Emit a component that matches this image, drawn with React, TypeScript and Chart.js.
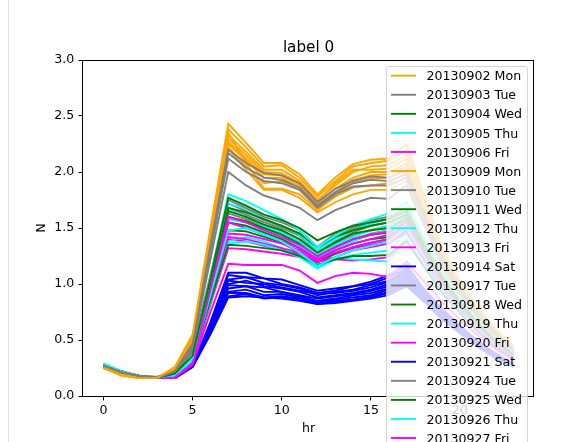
import { useEffect, useRef } from "react";
import { Chart, registerables } from "chart.js";

Chart.register(...registerables);

// ---------- data ----------
const hours = [0, 1, 2, 3, 4, 5, 6, 7, 8, 9, 10, 11, 12, 13, 14, 15, 16, 17, 18, 19, 20, 21, 22, 23];
const xTickValues = [0, 5, 10, 15, 20];
const yTickValues = [0, 0.5, 1, 1.5, 2, 2.5, 3];
const chartTitle = "label 0";
const xLabel = "hr";
const yLabel = "N";

const mondayDates = ["20130902", "20130909", "20130930", "20131007", "20131014", "20131021", "20131028", "20131104", "20131111"];
const mondayValues = [
  [0.25, 0.19, 0.16, 0.16, 0.26, 0.55, 1.50, 2.43, 2.26, 2.08, 2.08, 1.98, 1.80, 1.95, 2.07, 2.11, 2.12, 2.25, 1.78, 1.32, 1.02, 0.80, 0.60, 0.45],
  [0.26, 0.20, 0.17, 0.16, 0.24, 0.52, 1.45, 2.38, 2.22, 2.05, 2.06, 1.95, 1.78, 1.92, 2.05, 2.08, 2.10, 2.20, 1.75, 1.30, 1.00, 0.78, 0.58, 0.43],
  [0.25, 0.19, 0.16, 0.16, 0.25, 0.50, 1.40, 2.33, 2.18, 2.02, 2.02, 1.92, 1.75, 1.88, 2.00, 2.05, 2.06, 2.15, 1.70, 1.28, 0.98, 0.76, 0.57, 0.41],
  [0.26, 0.20, 0.17, 0.16, 0.23, 0.48, 1.38, 2.30, 2.15, 2.00, 1.99, 1.90, 1.74, 1.90, 2.02, 2.02, 2.03, 2.12, 1.68, 1.25, 0.96, 0.75, 0.55, 0.40],
  [0.25, 0.18, 0.16, 0.16, 0.24, 0.53, 1.42, 2.27, 2.12, 1.98, 1.97, 1.88, 1.72, 1.85, 1.95, 2.00, 2.00, 2.08, 1.65, 1.22, 0.95, 0.74, 0.55, 0.40],
  [0.26, 0.19, 0.17, 0.16, 0.25, 0.51, 1.40, 2.25, 2.10, 1.95, 1.95, 1.86, 1.70, 1.82, 1.93, 1.97, 1.98, 2.05, 1.62, 1.20, 0.93, 0.72, 0.54, 0.39],
  [0.25, 0.19, 0.16, 0.16, 0.22, 0.47, 1.35, 2.22, 2.05, 1.90, 1.92, 1.84, 1.68, 1.80, 1.90, 1.94, 1.95, 2.02, 1.60, 1.18, 0.92, 0.70, 0.52, 0.38],
  [0.26, 0.20, 0.17, 0.16, 0.24, 0.50, 1.38, 2.35, 2.08, 1.85, 1.85, 1.80, 1.66, 1.78, 1.86, 1.88, 1.90, 2.00, 1.58, 1.16, 0.90, 0.70, 0.52, 0.38],
  [0.25, 0.19, 0.16, 0.16, 0.23, 0.49, 1.36, 2.21, 2.02, 1.84, 1.84, 1.77, 1.64, 1.73, 1.80, 1.84, 1.84, 1.92, 1.55, 1.14, 0.88, 0.68, 0.50, 0.37],
];

const tuesdayDates = ["20130903", "20130910", "20130917", "20130924", "20131001", "20131008", "20131015", "20131022", "20131029"];
const tuesdayValues = [
  [0.27, 0.21, 0.18, 0.16, 0.22, 0.46, 1.35, 2.20, 2.08, 1.99, 1.97, 1.90, 1.73, 1.85, 1.92, 1.96, 1.95, 2.02, 1.62, 1.25, 0.97, 0.76, 0.57, 0.42],
  [0.27, 0.21, 0.18, 0.17, 0.21, 0.42, 1.08, 1.75, 1.68, 1.60, 1.55, 1.48, 1.33, 1.45, 1.52, 1.57, 1.60, 1.68, 1.36, 1.08, 0.86, 0.66, 0.50, 0.37],
  [0.26, 0.21, 0.18, 0.16, 0.21, 0.44, 1.22, 2.00, 1.88, 1.79, 1.74, 1.68, 1.57, 1.66, 1.72, 1.77, 1.76, 1.88, 1.52, 1.17, 0.92, 0.71, 0.54, 0.40],
  [0.27, 0.21, 0.18, 0.16, 0.21, 0.40, 1.05, 1.72, 1.65, 1.57, 1.52, 1.45, 1.30, 1.42, 1.50, 1.55, 1.58, 1.65, 1.34, 1.06, 0.84, 0.65, 0.49, 0.36],
  [0.27, 0.21, 0.18, 0.17, 0.23, 0.47, 1.33, 2.17, 2.04, 1.95, 1.93, 1.86, 1.70, 1.82, 1.90, 1.93, 1.92, 1.98, 1.60, 1.22, 0.95, 0.74, 0.56, 0.41],
  [0.26, 0.21, 0.18, 0.16, 0.20, 0.41, 1.03, 1.68, 1.62, 1.55, 1.50, 1.43, 1.28, 1.38, 1.46, 1.52, 1.55, 1.62, 1.32, 1.04, 0.82, 0.64, 0.48, 0.36],
  [0.27, 0.20, 0.18, 0.16, 0.22, 0.45, 1.28, 2.12, 2.00, 1.92, 1.90, 1.84, 1.68, 1.80, 1.87, 1.88, 1.88, 1.95, 1.58, 1.20, 0.94, 0.73, 0.55, 0.41],
  [0.27, 0.21, 0.18, 0.17, 0.21, 0.40, 1.00, 1.63, 1.58, 1.52, 1.47, 1.40, 1.26, 1.35, 1.43, 1.48, 1.52, 1.60, 1.30, 1.02, 0.80, 0.62, 0.47, 0.35],
  [0.27, 0.22, 0.18, 0.16, 0.21, 0.39, 0.98, 1.58, 1.55, 1.50, 1.45, 1.38, 1.24, 1.33, 1.40, 1.45, 1.48, 1.57, 1.28, 1.00, 0.79, 0.61, 0.46, 0.35],
];

const wednesdayDates = ["20130904", "20130911", "20130918", "20130925", "20131002", "20131009", "20131016"];
const wednesdayValues = [
  [0.27, 0.21, 0.18, 0.16, 0.20, 0.36, 1.05, 1.77, 1.70, 1.62, 1.57, 1.50, 1.39, 1.46, 1.52, 1.55, 1.58, 1.65, 1.34, 1.06, 0.84, 0.65, 0.49, 0.37],
  [0.27, 0.21, 0.18, 0.16, 0.20, 0.35, 1.00, 1.68, 1.64, 1.58, 1.52, 1.45, 1.33, 1.42, 1.48, 1.52, 1.55, 1.62, 1.32, 1.04, 0.83, 0.64, 0.48, 0.36],
  [0.27, 0.22, 0.18, 0.16, 0.19, 0.34, 0.98, 1.65, 1.60, 1.53, 1.48, 1.40, 1.28, 1.37, 1.45, 1.48, 1.50, 1.58, 1.29, 1.02, 0.81, 0.63, 0.47, 0.35],
  [0.27, 0.21, 0.18, 0.16, 0.20, 0.33, 0.85, 1.35, 1.34, 1.32, 1.30, 1.25, 1.17, 1.22, 1.25, 1.25, 1.26, 1.38, 1.15, 0.92, 0.74, 0.57, 0.44, 0.33],
  [0.26, 0.21, 0.18, 0.16, 0.20, 0.35, 0.96, 1.60, 1.56, 1.50, 1.44, 1.36, 1.25, 1.33, 1.40, 1.44, 1.46, 1.55, 1.26, 1.00, 0.79, 0.61, 0.46, 0.35],
  [0.27, 0.21, 0.18, 0.16, 0.19, 0.33, 0.93, 1.55, 1.52, 1.46, 1.40, 1.32, 1.22, 1.30, 1.36, 1.40, 1.42, 1.52, 1.24, 0.98, 0.78, 0.60, 0.45, 0.34],
  [0.27, 0.21, 0.18, 0.16, 0.19, 0.34, 0.90, 1.48, 1.47, 1.42, 1.37, 1.28, 1.19, 1.27, 1.33, 1.37, 1.40, 1.48, 1.22, 0.96, 0.76, 0.59, 0.45, 0.34],
];

const thursdayDates = ["20130905", "20130912", "20130919", "20130926", "20131003", "20131010", "20131017"];
const thursdayValues = [
  [0.29, 0.22, 0.18, 0.16, 0.19, 0.34, 1.06, 1.80, 1.74, 1.66, 1.58, 1.48, 1.33, 1.43, 1.52, 1.58, 1.63, 1.73, 1.40, 1.10, 0.87, 0.67, 0.50, 0.38],
  [0.28, 0.22, 0.18, 0.16, 0.19, 0.33, 1.02, 1.72, 1.67, 1.58, 1.52, 1.44, 1.30, 1.40, 1.48, 1.54, 1.58, 1.68, 1.36, 1.07, 0.85, 0.66, 0.49, 0.37],
  [0.28, 0.22, 0.18, 0.16, 0.19, 0.32, 0.90, 1.48, 1.50, 1.44, 1.38, 1.28, 1.16, 1.24, 1.30, 1.34, 1.38, 1.50, 1.24, 0.99, 0.79, 0.61, 0.46, 0.35],
  [0.28, 0.22, 0.18, 0.16, 0.19, 0.33, 0.99, 1.66, 1.60, 1.52, 1.46, 1.38, 1.26, 1.35, 1.42, 1.48, 1.52, 1.62, 1.32, 1.04, 0.83, 0.64, 0.48, 0.36],
  [0.29, 0.22, 0.18, 0.16, 0.18, 0.31, 0.84, 1.36, 1.38, 1.35, 1.30, 1.24, 1.15, 1.24, 1.22, 1.21, 1.20, 1.40, 1.17, 0.94, 0.75, 0.59, 0.44, 0.33],
  [0.29, 0.22, 0.18, 0.16, 0.18, 0.32, 0.95, 1.58, 1.55, 1.48, 1.42, 1.34, 1.22, 1.32, 1.38, 1.44, 1.48, 1.58, 1.29, 1.02, 0.81, 0.63, 0.47, 0.35],
  [0.28, 0.22, 0.18, 0.16, 0.18, 0.31, 0.86, 1.38, 1.42, 1.38, 1.32, 1.24, 1.14, 1.22, 1.26, 1.28, 1.30, 1.45, 1.20, 0.96, 0.77, 0.60, 0.45, 0.34],
];

const fridayDates = ["20130906", "20130913", "20130920", "20130927", "20131004", "20131011", "20131018"];
const fridayValues = [
  [0.28, 0.22, 0.18, 0.16, 0.16, 0.29, 0.95, 1.60, 1.55, 1.48, 1.42, 1.35, 1.25, 1.33, 1.40, 1.44, 1.47, 1.55, 1.27, 1.00, 0.80, 0.62, 0.47, 0.35],
  [0.28, 0.22, 0.18, 0.16, 0.16, 0.28, 0.75, 1.18, 1.17, 1.17, 1.17, 1.12, 1.01, 1.07, 1.10, 1.09, 1.06, 1.20, 1.02, 0.84, 0.68, 0.54, 0.42, 0.32],
  [0.28, 0.22, 0.18, 0.16, 0.16, 0.30, 0.92, 1.55, 1.50, 1.44, 1.38, 1.32, 1.22, 1.30, 1.36, 1.40, 1.44, 1.52, 1.25, 0.99, 0.79, 0.61, 0.46, 0.35],
  [0.28, 0.22, 0.18, 0.16, 0.16, 0.29, 0.88, 1.45, 1.44, 1.40, 1.36, 1.30, 1.22, 1.28, 1.33, 1.37, 1.40, 1.50, 1.23, 0.98, 0.78, 0.60, 0.45, 0.34],
  [0.28, 0.22, 0.18, 0.16, 0.16, 0.29, 0.82, 1.32, 1.31, 1.29, 1.27, 1.24, 1.20, 1.22, 1.21, 1.22, 1.24, 1.40, 1.17, 0.94, 0.75, 0.58, 0.44, 0.33],
  [0.28, 0.22, 0.18, 0.16, 0.16, 0.28, 0.86, 1.42, 1.40, 1.36, 1.32, 1.28, 1.20, 1.24, 1.30, 1.33, 1.36, 1.46, 1.21, 0.96, 0.77, 0.59, 0.45, 0.34],
  [0.28, 0.22, 0.18, 0.16, 0.16, 0.29, 0.85, 1.40, 1.38, 1.34, 1.30, 1.27, 1.21, 1.27, 1.32, 1.35, 1.38, 1.47, 1.22, 0.97, 0.77, 0.60, 0.45, 0.34],
];

const saturdayDates = ["20130914", "20130921", "20130928", "20131005", "20131012", "20131019", "20131026", "20131102", "20131109", "20131116", "20131123"];
const saturdayValues = [
  [0.27, 0.22, 0.18, 0.16, 0.16, 0.27, 0.66, 1.10, 1.10, 1.05, 1.04, 0.99, 0.94, 0.96, 0.98, 1.02, 1.08, 1.17, 0.95, 0.78, 0.63, 0.49, 0.38, 0.29],
  [0.27, 0.22, 0.18, 0.16, 0.16, 0.27, 0.65, 1.08, 1.06, 1.05, 1.00, 0.97, 0.92, 0.94, 0.98, 1.00, 1.06, 1.14, 0.93, 0.76, 0.62, 0.48, 0.37, 0.29],
  [0.27, 0.22, 0.18, 0.16, 0.16, 0.27, 0.64, 1.04, 1.06, 1.01, 0.99, 0.96, 0.90, 0.93, 0.95, 0.99, 1.03, 1.12, 0.92, 0.75, 0.61, 0.48, 0.37, 0.28],
  [0.27, 0.21, 0.18, 0.16, 0.16, 0.28, 0.63, 1.03, 1.01, 1.00, 0.97, 0.94, 0.91, 0.92, 0.94, 0.97, 1.02, 1.10, 0.91, 0.74, 0.60, 0.47, 0.36, 0.28],
  [0.27, 0.22, 0.18, 0.16, 0.16, 0.27, 0.62, 1.00, 1.03, 0.98, 0.96, 0.93, 0.88, 0.90, 0.92, 0.95, 1.00, 1.08, 0.90, 0.73, 0.59, 0.46, 0.36, 0.28],
  [0.27, 0.22, 0.18, 0.16, 0.16, 0.27, 0.61, 0.99, 0.98, 0.97, 0.93, 0.90, 0.87, 0.89, 0.91, 0.94, 0.98, 1.07, 0.89, 0.72, 0.58, 0.46, 0.35, 0.27],
  [0.27, 0.22, 0.18, 0.16, 0.16, 0.26, 0.60, 0.96, 0.98, 0.93, 0.93, 0.89, 0.85, 0.87, 0.90, 0.92, 0.96, 1.05, 0.88, 0.71, 0.58, 0.45, 0.35, 0.27],
  [0.27, 0.21, 0.18, 0.16, 0.16, 0.27, 0.58, 0.93, 0.95, 0.90, 0.91, 0.88, 0.84, 0.86, 0.88, 0.90, 0.95, 1.04, 0.87, 0.71, 0.57, 0.45, 0.35, 0.27],
  [0.27, 0.22, 0.18, 0.16, 0.16, 0.26, 0.57, 0.92, 0.92, 0.88, 0.89, 0.87, 0.83, 0.85, 0.86, 0.89, 0.93, 1.02, 0.86, 0.70, 0.57, 0.44, 0.34, 0.27],
  [0.27, 0.22, 0.18, 0.16, 0.16, 0.26, 0.56, 0.89, 0.91, 0.87, 0.88, 0.86, 0.82, 0.84, 0.86, 0.88, 0.92, 1.00, 0.85, 0.69, 0.56, 0.44, 0.34, 0.26],
  [0.27, 0.22, 0.18, 0.16, 0.16, 0.26, 0.55, 0.88, 0.89, 0.88, 0.87, 0.85, 0.82, 0.83, 0.85, 0.87, 0.90, 0.98, 0.84, 0.68, 0.56, 0.44, 0.34, 0.26],
];

// ---------- styles ----------
const dayColors: Record<string, string> = {
  Mon: "#FFA500",
  Tue: "#808080",
  Wed: "#008000",
  Thu: "#00FFFF",
  Fri: "#FF00FF",
  Sat: "#0000FF",
};
const FONT = '"DejaVu Sans", sans-serif';
const TICK_SIZE = 12.6;
const TITLE_SIZE = 15.2;

type Series = { label: string; date: string; color: string; values: number[] };

function buildSeries(): Series[] {
  const groups: [string, string[], number[][]][] = [
    ["Mon", mondayDates, mondayValues],
    ["Tue", tuesdayDates, tuesdayValues],
    ["Wed", wednesdayDates, wednesdayValues],
    ["Thu", thursdayDates, thursdayValues],
    ["Fri", fridayDates, fridayValues],
    ["Sat", saturdayDates, saturdayValues],
  ];
  const out: Series[] = [];
  groups.forEach(([day, dates, vals]) => {
    dates.forEach((d, i) => {
      out.push({ label: `${d} ${day}`, date: d, color: dayColors[day], values: vals[i] });
    });
  });
  out.sort((a, b) => (a.date < b.date ? -1 : a.date > b.date ? 1 : 0));
  return out;
}

export default function App() {
  const canvasRef = useRef<HTMLCanvasElement | null>(null);

  useEffect(() => {
    const canvas = canvasRef.current;
    if (!canvas) return;
    const series = buildSeries();

    const decor = {
      id: "mplDecor",
      afterDatasetsDraw(chart: any) {
        const { ctx, chartArea } = chart;
        ctx.save();
        ctx.strokeStyle = "#000";
        ctx.lineWidth = 1;
        ctx.strokeRect(
          Math.round(chartArea.left) - 0.5,
          Math.round(chartArea.top) + 0.5,
          Math.round(chartArea.right) - Math.round(chartArea.left),
          Math.round(chartArea.bottom) - Math.round(chartArea.top)
        );
        ctx.restore();
      },
      afterDraw(chart: any) {
        const { ctx, chartArea } = chart;
        const cx = (chartArea.left + chartArea.right) / 2;
        ctx.save();
        ctx.fillStyle = "#000";
        ctx.font = `${TITLE_SIZE}px ${FONT}`;
        ctx.textAlign = "center";
        ctx.textBaseline = "alphabetic";
        ctx.fillText(chartTitle, cx, chartArea.top - 7.6);
        ctx.font = `${TICK_SIZE}px ${FONT}`;
        ctx.fillText(xLabel, cx, 432);
        ctx.save();
        ctx.translate(45, (chartArea.top + chartArea.bottom) / 2);
        ctx.rotate(-Math.PI / 2);
        ctx.textAlign = "center";
        ctx.textBaseline = "alphabetic";
        ctx.fillText(yLabel, 0, 0);
        ctx.restore();

        // legend (matplotlib style, upper right, semi-transparent)
        const lx = 386.5;
        const ly = 66.5;
        const lw = 141;
        const rowH = 19.07;
        const firstY = 75.7;
        const lh = firstY - ly + rowH * (series.length - 1) + 10;
        const r = 2.5;
        ctx.beginPath();
        ctx.moveTo(lx + r, ly);
        ctx.lineTo(lx + lw - r, ly);
        ctx.quadraticCurveTo(lx + lw, ly, lx + lw, ly + r);
        ctx.lineTo(lx + lw, ly + lh - r);
        ctx.quadraticCurveTo(lx + lw, ly + lh, lx + lw - r, ly + lh);
        ctx.lineTo(lx + r, ly + lh);
        ctx.quadraticCurveTo(lx, ly + lh, lx, ly + lh - r);
        ctx.lineTo(lx, ly + r);
        ctx.quadraticCurveTo(lx, ly, lx + r, ly);
        ctx.closePath();
        ctx.fillStyle = "rgba(255,255,255,0.8)";
        ctx.fill();
        ctx.strokeStyle = "rgba(204,204,204,0.8)";
        ctx.lineWidth = 1;
        ctx.stroke();

        ctx.font = `${TICK_SIZE}px ${FONT}`;
        ctx.textAlign = "left";
        ctx.textBaseline = "alphabetic";
        series.forEach((s, i) => {
          const y = firstY + i * rowH;
          ctx.strokeStyle = s.color;
          ctx.lineWidth = 1.9;
          ctx.beginPath();
          ctx.moveTo(391, y);
          ctx.lineTo(416, y);
          ctx.stroke();
          ctx.fillStyle = "#000";
          ctx.fillText(s.label, 426.5, y + 4.6);
        });
        ctx.restore();
      },
    };

    const chart = new Chart(canvas, {
      type: "line",
      data: {
        datasets: series.map((s) => ({
          label: s.label,
          data: s.values.map((v, i) => ({ x: hours[i], y: v })),
          borderColor: s.color,
          backgroundColor: s.color,
          borderWidth: 1.9,
          pointRadius: 0,
          pointHoverRadius: 0,
          fill: false,
          tension: 0,
        })),
      },
      options: {
        responsive: false,
        maintainAspectRatio: false,
        animation: false,
        devicePixelRatio: 1,
        layout: { padding: { left: 0, top: 60, right: 51, bottom: 0 } },
        plugins: {
          legend: { display: false },
          title: { display: false },
          tooltip: { enabled: false },
        },
        scales: {
          x: {
            type: "linear",
            min: -1.15,
            max: 24.15,
            afterBuildTicks: (scale: any) => {
              scale.ticks = xTickValues.map((v) => ({ value: v }));
            },
            afterFit: (scale: any) => {
              scale.height = 46;
            },
            grid: {
              drawOnChartArea: false,
              drawTicks: true,
              tickLength: 4.4,
              tickColor: "#000",
              tickWidth: 1,
            },
            border: { display: false },
            ticks: {
              color: "#000",
              font: { family: FONT, size: TICK_SIZE },
              padding: 3,
              maxRotation: 0,
              autoSkip: false,
              callback: (v: any) => String(v),
            },
          },
          y: {
            type: "linear",
            min: 0,
            max: 3,
            afterBuildTicks: (scale: any) => {
              scale.ticks = yTickValues.map((v) => ({ value: v }));
            },
            afterFit: (scale: any) => {
              scale.width = 83;
            },
            grid: {
              drawOnChartArea: false,
              drawTicks: true,
              tickLength: 4.4,
              tickColor: "#000",
              tickWidth: 1,
            },
            border: { display: false },
            ticks: {
              color: "#000",
              font: { family: FONT, size: TICK_SIZE },
              padding: 4.4,
              autoSkip: false,
              callback: (v: any) => Number(v).toFixed(1),
            },
          },
        },
      },
      plugins: [decor],
    });

    return () => chart.destroy();
  }, []);

  return (
    <div style={{ position: "fixed", left: 0, top: 0, width: 585, height: 442, background: "#fff", overflow: "hidden" }}>
      <canvas ref={canvasRef} width={585} height={442} style={{ display: "block", width: 585, height: 442 }} />
      <div style={{ position: "absolute", left: 8, top: 0, width: 1, height: 442, background: "#e0e0e0" }} />
    </div>
  );
}
